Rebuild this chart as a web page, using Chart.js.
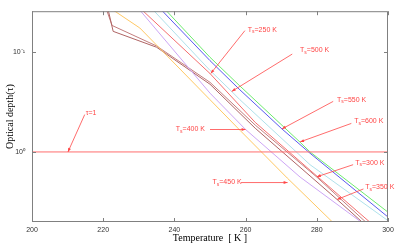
<!DOCTYPE html>
<html>
<head>
<meta charset="utf-8">
<script src="https://cdn.jsdelivr.net/npm/chart.js@4.4.1/dist/chart.umd.min.js"></script>
<style>
  html, body { margin: 0; padding: 0; background: #fff; }
  #wrap { width: 400px; height: 244px; }
</style>
</head>
<body>
<div id="wrap"><canvas id="canvas" width="400" height="244"></canvas></div>
<script>
// axis ticks
const tempTicks = [200, 220, 240, 260, 280, 300];
const tauTicks = [0.1, 1];
const tauTickLabels = ['10⁻¹', '10⁰'];

// temperature [K] vs optical depth, one curve per surface temperature Ts
const t250 = [229.5, 250.0, 262.7, 278.1, 296.1];
const tau250 = [0.0344, 0.165, 0.507, 1.52, 5.46];
const t300 = [220.5, 222.5, 235.0, 250.0, 262.7, 280.0, 294.9];
const tau300 = [0.0344, 0.0547, 0.0876, 0.202, 0.539, 1.78, 5.46];
const t350 = [221.1, 222.8, 235.0, 250.0, 262.7, 285.7, 293.9];
const tau350 = [0.0344, 0.0626, 0.0902, 0.211, 0.58, 2.98, 5.46];
const t400 = [226.4, 230.3, 250.0, 260.0, 275.3, 293.9];
const tau400 = [0.0344, 0.0385, 0.259, 0.597, 1.78, 5.46];
const t450 = [220.8, 230.3, 250.0, 258.4, 271.7, 285.5];
const tau450 = [0.0344, 0.058, 0.301, 0.607, 1.82, 5.46];
const t500 = [232.8, 250.0, 256.1, 258.4, 278.1, 300.0];
const tau500 = [0.0344, 0.1535, 0.249, 0.301, 1.34, 4.85];
const t550 = [235.1, 250.0, 258.4, 270.2, 278.1, 300.0];
const tau550 = [0.0344, 0.1227, 0.240, 0.589, 1.03, 4.46];
const t600 = [236.3, 250.0, 258.4, 275.3, 278.1, 300.0];
const tau600 = [0.0344, 0.1136, 0.2197, 0.799, 1.0, 3.99];

// tau = 1 reference line
const unitT = [200, 300];
const unitTau = [1, 1];

// labels with arrows: text anchor, arrow tail, arrow tip (T, tau)
const notes = [
    { text: 'τ=1', at: [215.1, 0.405], from: [214.8, 0.424], to: [210.1, 1.0] },
    { text: 'Ts=250 K', at: [260.6, 0.0603], from: [259.8, 0.0616], to: [250.2, 0.165] },
    { text: 'Ts=500 K', at: [275.3, 0.0965], from: [273.1, 0.1055], to: [256.1, 0.249] },
    { text: 'Ts=550 K', at: [285.7, 0.3007], from: [284.6, 0.313], to: [270.2, 0.589] },
    { text: 'Ts=600 K', at: [290.5, 0.496], from: [289.7, 0.519], to: [275.3, 0.794] },
    { text: 'Ts=400 K', at: [240.4, 0.597], from: [250.0, 0.597], to: [260.0, 0.597] },
    { text: 'Ts=450 K', at: [250.7, 2.02], from: [258.7, 2.02], to: [271.8, 2.02] },
    { text: 'Ts=300 K', at: [290.8, 1.29], from: [290.2, 1.34], to: [280.0, 1.77] },
    { text: 'Ts=350 K', at: [293.6, 2.26], from: [293.1, 2.34], to: [285.7, 2.98] }
];

const noteColor = 'rgb(255,70,70)';
const sans = '"Liberation Sans", Arial, sans-serif';
const serif = '"Liberation Serif", "Times New Roman", serif';

function pts(xs, ys) {
    return xs.map((x, i) => ({ x: x, y: ys[i] }));
}

function series(xs, ys, color) {
    return { data: pts(xs, ys), borderColor: color, borderWidth: 1, pointRadius: 0, showLine: true, tension: 0 };
}

function drawArrow(ctx, x0, y0, x1, y1) {
    ctx.beginPath();
    ctx.moveTo(x0, y0);
    ctx.lineTo(x1, y1);
    ctx.stroke();
    const a = Math.atan2(y1 - y0, x1 - x0);
    const c = Math.cos(a), s = Math.sin(a);
    ctx.beginPath();
    ctx.moveTo(x1, y1);
    ctx.lineTo(x1 - 4 * c + 1.5 * s, y1 - 4 * s - 1.5 * c);
    ctx.lineTo(x1 - 4 * c - 1.5 * s, y1 - 4 * s + 1.5 * c);
    ctx.closePath();
    ctx.fill();
}

function drawLabel(ctx, x, y, text) {
    ctx.textBaseline = 'middle';
    ctx.textAlign = 'left';
    ctx.font = '7px ' + sans;
    if (text.startsWith('Ts')) {
        ctx.fillText('T', x, y);
        let w = ctx.measureText('T').width;
        ctx.font = '5px ' + sans;
        ctx.fillText('s', x + w, y + 2);
        w += ctx.measureText('s').width;
        ctx.font = '7px ' + sans;
        ctx.fillText(text.slice(2), x + w, y);
    } else {
        ctx.fillText(text, x, y);
    }
}

const frame = {
    id: 'frame',
    afterDraw(chart) {
        const { ctx, chartArea: a, scales } = chart;
        const xs = scales.x, ys = scales.y;
        ctx.save();
        ctx.strokeStyle = '#808080';
        ctx.lineWidth = 1;
        ctx.strokeRect(a.left + 0.5, a.top + 0.5, a.right - a.left - 1, a.bottom - a.top - 1);
        ctx.beginPath();
        tempTicks.forEach(v => {
            const px = Math.round(xs.getPixelForValue(v)) + 0.5;
            ctx.moveTo(px, a.bottom); ctx.lineTo(px, a.bottom - 4);
            ctx.moveTo(px, a.top); ctx.lineTo(px, a.top + 4);
        });
        tauTicks.forEach(v => {
            const py = Math.round(ys.getPixelForValue(v)) + 0.5;
            ctx.moveTo(a.left, py); ctx.lineTo(a.left + 4, py);
            ctx.moveTo(a.right, py); ctx.lineTo(a.right - 4, py);
        });
        ctx.stroke();

        ctx.strokeStyle = noteColor;
        ctx.fillStyle = noteColor;
        ctx.lineWidth = 0.8;
        notes.forEach(n => {
            drawArrow(ctx,
                xs.getPixelForValue(n.from[0]), ys.getPixelForValue(n.from[1]),
                xs.getPixelForValue(n.to[0]), ys.getPixelForValue(n.to[1]));
            drawLabel(ctx, xs.getPixelForValue(n.at[0]), ys.getPixelForValue(n.at[1]), n.text);
        });
        ctx.restore();
    }
};

const chart = new Chart(document.getElementById('canvas').getContext('2d'), {
    type: 'scatter',
    data: {
        datasets: [
            series(unitT, unitTau, 'rgb(255,110,110)'),
            series(t450, tau450, 'rgb(255,200,100)'),
            series(t400, tau400, 'rgb(205,165,245)'),
            series(t350, tau350, 'rgb(175,100,100)'),
            series(t300, tau300, 'rgb(195,125,125)'),
            series(t250, tau250, 'rgb(245,110,110)'),
            series(t500, tau500, 'rgb(175,225,235)'),
            series(t550, tau550, 'rgb(90,90,240)'),
            series(t600, tau600, 'rgb(110,235,110)')
        ]
    },
    options: {
        responsive: false,
        animation: false,
        devicePixelRatio: 1,
        layout: { padding: { top: 6, right: 12, left: 0, bottom: 0 } },
        plugins: { legend: { display: false }, tooltip: { enabled: false } },
        scales: {
            x: {
                type: 'linear',
                min: 200, max: 300,
                grid: { display: false, drawTicks: false },
                border: { display: false },
                ticks: { stepSize: 20, padding: 4, font: { size: 7, family: sans }, color: '#333' },
                title: { display: true, text: 'Temperature  [ K ]', font: { size: 10, family: serif }, color: '#000', padding: { top: 0, bottom: 0 } },
                afterFit: (s) => { s.height = 22; }
            },
            y: {
                type: 'logarithmic',
                reverse: true,
                min: 0.0394, max: 5,
                grid: { display: false, drawTicks: false },
                border: { display: false },
                afterBuildTicks: (s) => { s.ticks = tauTicks.map(v => ({ value: v })); },
                ticks: {
                    padding: 7,
                    font: { size: 7, family: sans },
                    color: '#333',
                    callback: (v) => tauTickLabels[tauTicks.indexOf(v)]
                },
                title: { display: true, text: 'Optical depth(τ)', font: { size: 10, family: serif }, color: '#000', padding: { top: 4, bottom: 4 } },
                afterFit: (s) => { s.width = 32; }
            }
        }
    },
    plugins: [frame]
});
</script>
</body>
</html>
